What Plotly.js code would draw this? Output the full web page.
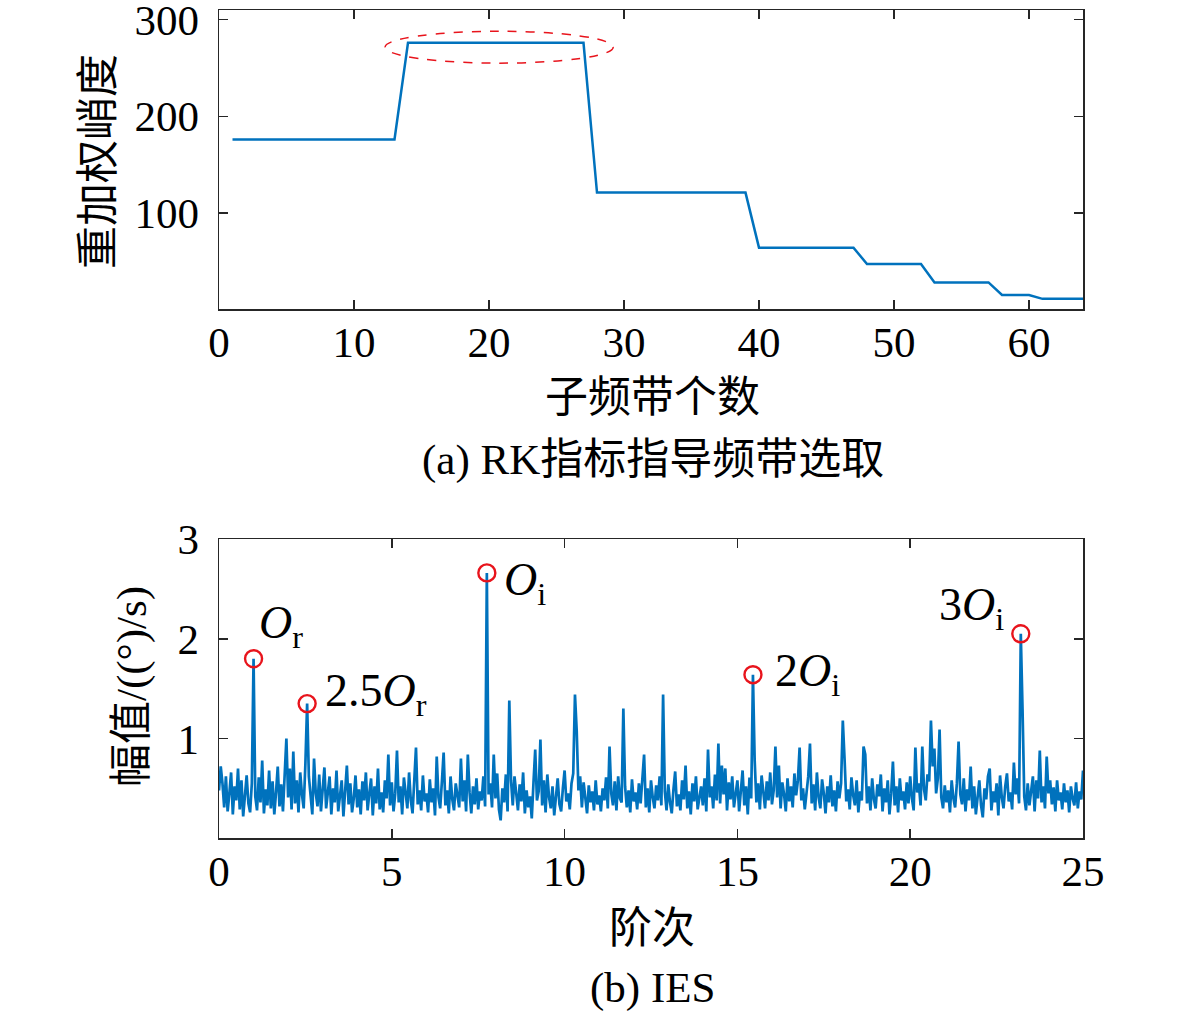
<!DOCTYPE html>
<html>
<head>
<meta charset="utf-8">
<script src="https://cdn.plot.ly/plotly-3.0.1.min.js"></script>
<style>
  body { margin: 0; background: #fff; }
  #chart { width: 1181px; height: 1013px; }
</style>
</head>
<body>
<div id="chart"></div>
<script>
// (a) reweighted kurtosis for each sub-band count 1..64
var band_counts = [];
for (var i = 1; i <= 64; i++) band_counts.push(i);
var rk_values = [
  176, 176, 176, 176, 176, 176, 176, 176, 176, 176, 176, 176, 176,
  276, 276, 276, 276, 276, 276, 276, 276, 276, 276, 276, 276, 276, 276,
  121, 121, 121, 121, 121, 121, 121, 121, 121, 121, 121, 121,
  64, 64, 64, 64, 64, 64, 64, 64,
  47, 47, 47, 47, 47,
  28, 28, 28, 28, 28,
  15, 15, 15,
  11, 11, 11, 11
];
var rk_yticks = [100, 200, 300];
var rk_xticks = [0, 10, 20, 30, 40, 50, 60];

// (b) IES amplitude, order 0..25 sampled every 0.05
var order_start = 0;
var order_step = 0.05;
var ies_values = [
  0.48, 0.72, 0.55, 0.31, 0.62, 0.27, 0.45, 0.66, 0.24, 0.52, 0.38, 0.70, 0.29, 0.58, 0.22, 0.47, 0.63, 0.35, 0.26, 0.55,
  1.80, 0.42, 0.28, 0.61, 0.36, 0.78, 0.25, 0.49, 0.33, 0.68, 0.30, 0.57, 0.24, 0.46, 0.72, 0.32, 0.54, 0.27, 0.62, 1.00,
  0.41, 0.70, 0.29, 0.87, 0.35, 0.58, 0.26, 0.66, 0.44, 0.30, 0.75, 1.35, 0.62, 0.38, 0.24, 0.80, 0.45, 0.32, 0.64, 0.27,
  0.52, 0.71, 0.30, 0.44, 0.62, 0.24, 0.50, 0.36, 0.68, 0.27, 0.43, 0.58, 0.22, 0.47, 0.73, 0.34, 0.55, 0.26, 0.40, 0.63,
  0.31, 0.49, 0.24, 0.57, 0.38, 0.66, 0.28, 0.45, 0.60, 0.23, 0.52, 0.35, 0.70, 0.29, 0.46, 0.26, 0.58, 0.40, 0.84, 0.33,
  0.56, 0.27, 0.45, 0.88, 0.36, 0.52, 0.24, 0.61, 0.42, 0.30, 0.66, 0.38, 0.25, 0.54, 0.91, 0.34, 0.48, 0.28, 0.63, 0.37,
  0.45, 0.26, 0.59, 0.36, 0.50, 0.23, 0.82, 0.41, 0.30, 0.57, 0.86, 0.33, 0.48, 0.25, 0.62, 0.39, 0.28, 0.55, 0.43, 0.31,
  0.80, 0.37, 0.58, 0.27, 0.84, 0.46, 0.25, 0.52, 0.34, 0.60, 0.29, 0.47, 0.38, 0.62, 0.32, 2.66, 0.44, 0.55, 0.31, 0.84,
  0.40, 0.65, 0.29, 0.18, 0.50, 0.36, 0.64, 0.27, 1.38, 0.58, 0.33, 0.62, 0.45, 0.28, 0.54, 0.37, 0.66, 0.25, 0.48, 0.31,
  0.42, 0.20, 0.56, 0.89, 0.38, 0.47, 0.99, 0.33, 0.58, 0.26, 0.64, 0.41, 0.30, 0.52, 0.23, 0.46, 0.60, 0.34, 0.27, 0.50,
  0.68, 0.37, 0.45, 0.29, 0.55, 0.65, 1.44, 1.08, 0.48, 0.62, 0.31, 0.56, 0.40, 0.25, 0.53, 0.36, 0.47, 0.28, 0.58, 0.34,
  0.43, 0.27, 0.50, 0.38, 0.61, 0.30, 0.92, 0.45, 0.33, 0.57, 0.28, 0.62, 0.40, 0.36, 1.30, 0.52, 0.31, 0.48, 0.26, 0.59,
  0.37, 0.46, 0.29, 0.55, 0.35, 0.64, 0.84, 0.31, 0.50, 0.26, 0.58, 0.41, 0.30, 0.53, 0.38, 0.62, 0.33, 1.44, 0.47, 0.28,
  0.54, 0.36, 0.25, 0.49, 0.67, 0.32, 0.44, 0.28, 0.58, 0.39, 0.73, 0.30, 0.47, 0.24, 0.55, 0.37, 0.62, 0.29, 0.42, 0.52,
  0.33, 0.60, 0.27, 0.89, 0.41, 0.52, 0.30, 0.64, 0.38, 0.95, 0.35, 0.73, 0.44, 0.70, 0.28, 0.56, 0.39, 0.62, 0.31, 0.48,
  0.58, 0.27, 0.45, 0.68, 0.33, 0.52, 0.24, 0.61, 0.40, 1.64, 0.78, 0.36, 0.55, 0.29, 0.63, 0.42, 0.30, 0.57, 0.38, 0.66,
  0.34, 0.48, 0.92, 0.41, 0.73, 0.30, 0.56, 0.44, 0.27, 0.60, 0.37, 0.52, 0.31, 0.65, 0.43, 0.58, 0.91, 0.38, 0.50, 0.29,
  0.47, 0.62, 0.95, 0.35, 0.54, 0.28, 0.66, 0.41, 0.30, 0.59, 0.45, 0.25, 0.52, 0.36, 0.63, 0.32, 0.48, 0.27, 0.57, 0.40,
  0.55, 1.18, 0.80, 0.37, 0.49, 0.29, 0.61, 0.43, 0.33, 0.58, 0.26, 0.47, 0.38, 0.92, 0.84, 0.35, 0.52, 0.28, 0.60, 0.39,
  0.30, 0.54, 0.42, 0.64, 0.27, 0.50, 0.36, 0.58, 0.24, 0.45, 0.77, 0.33, 0.52, 0.26, 0.60, 0.38, 0.47, 0.29, 0.56, 0.35,
  0.62, 0.40, 0.28, 0.91, 0.46, 0.55, 0.33, 0.92, 0.49, 0.38, 0.64, 0.57, 1.18, 0.72, 0.90, 0.45, 0.60, 1.09, 0.41, 0.30,
  0.53, 0.36, 0.48, 0.26, 0.58, 0.40, 0.31, 0.55, 0.97, 0.44, 0.34, 0.60, 0.27, 0.49, 0.38, 0.72, 0.30, 0.52, 0.24, 0.45,
  0.58, 0.33, 0.21, 0.50, 0.39, 0.62, 0.70, 0.28, 0.47, 0.36, 0.55, 0.23, 0.63, 0.41, 0.30, 0.52, 0.65, 0.37, 0.46, 0.29,
  0.76, 0.44, 0.60, 0.35, 2.05, 1.30, 0.42, 0.28, 0.55, 0.33, 0.49, 0.62, 0.27, 0.58, 0.40, 0.88, 0.36, 0.52, 0.30, 0.82,
  0.45, 0.58, 0.34, 0.51, 0.27, 0.58, 0.38, 0.46, 0.29, 0.55, 0.36, 0.48, 0.26, 0.52, 0.40, 0.33, 0.56, 0.30, 0.47, 0.39,
  0.68
];
var ies_yticks = [1, 2, 3];
var ies_xticks = [0, 5, 10, 15, 20, 25];

// marked fault orders
var peak_orders = [1.00, 2.55, 7.75, 15.45, 23.20];
var peak_amps = [1.80, 1.35, 2.66, 1.64, 2.05];
var peak_labels = ['<i>O</i><sub>r</sub>', '2.5<i>O</i><sub>r</sub>', '<i>O</i><sub>i</sub>',
                   '2<i>O</i><sub>i</sub>', '3<i>O</i><sub>i</sub>'];
var label_x = [1.10, 3.00, 8.20, 16.03, 20.78];
var label_y = [2.13, 1.45, 2.56, 1.65, 2.31];

var W = 1181, H = 1013;
var serif = 'Liberation Serif, Noto Sans CJK SC, serif';
var line_blue = '#0072BD';
var axis_col = '#262626';

function px(x) { return x / W; }
function py(y) { return 1 - y / H; }

function axis_style(extra) {
  var ax = {
    showline: true,
    linecolor: axis_col,
    linewidth: 1.5,
    mirror: 'allticks',
    ticks: 'inside',
    ticklen: 9,
    tickwidth: 1.5,
    tickcolor: axis_col,
    showgrid: false,
    zeroline: false,
    ticklabeloverflow: 'allow',
    tickfont: { family: serif, size: 43, color: '#000' },
    fixedrange: true
  };
  for (var k in extra) ax[k] = extra[k];
  return ax;
}

var data = [{
  x: band_counts,
  y: rk_values,
  type: 'scatter',
  mode: 'lines',
  line: { color: line_blue, width: 2.5 },
  xaxis: 'x',
  yaxis: 'y',
  showlegend: false
},
{
  y: ies_values,
  x0: order_start,
  dx: order_step,
  type: 'scatter',
  mode: 'lines',
  line: { color: line_blue, width: 2.7 },
  xaxis: 'x2',
  yaxis: 'y2',
  showlegend: false
},
{
  x: peak_orders,
  y: peak_amps,
  type: 'scatter',
  mode: 'markers',
  marker: { symbol: 'circle-open', size: 17, color: '#E8141C', line: { width: 2.4, color: '#E8141C' } },
  xaxis: 'x2',
  yaxis: 'y2',
  showlegend: false
}];

var annotations = [
  { text: '重加权峭度', x: px(98), y: py(162), textangle: -90 },
  { text: '子频带个数', x: px(652), y: py(397) },
  { text: '(a) RK指标指导频带选取', x: px(653), y: py(460) },
  { text: '幅值/((°)/s)', x: px(132), y: py(687), textangle: -90 },
  { text: '阶次', x: px(652), y: py(928) },
  { text: '(b) IES', x: px(652), y: py(988) }
].map(function (a) {
  a.xref = 'paper';
  a.yref = 'paper';
  a.showarrow = false;
  a.xanchor = 'center';
  a.yanchor = 'middle';
  a.font = { family: serif, size: 43, color: '#000' };
  return a;
});

for (var j = 0; j < peak_labels.length; j++) {
  annotations.push({
    text: peak_labels[j],
    x: label_x[j],
    y: label_y[j],
    xref: 'x2',
    yref: 'y2',
    showarrow: false,
    xanchor: 'left',
    yanchor: 'middle',
    font: { family: serif, size: 46, color: '#000' }
  });
}

var layout = {
  width: W,
  height: H,
  margin: { l: 0, r: 0, t: 0, b: 0 },
  paper_bgcolor: '#fff',
  plot_bgcolor: '#fff',
  xaxis: axis_style({
    domain: [px(219), px(1083)],
    range: [0, 64],
    tickvals: rk_xticks,
    ticklabelstandoff: -5,
    anchor: 'y'
  }),
  yaxis: axis_style({
    domain: [py(309), py(10)],
    range: [0.5, 310],
    tickvals: rk_yticks,
    ticklabelstandoff: 10,
    anchor: 'x'
  }),
  xaxis2: axis_style({
    domain: [px(219), px(1083)],
    range: [0, 25],
    tickvals: ies_xticks,
    ticklabelstandoff: -5,
    anchor: 'y2'
  }),
  yaxis2: axis_style({
    domain: [py(838), py(539)],
    range: [0.003, 3],
    tickvals: ies_yticks,
    ticklabelstandoff: 10,
    anchor: 'x2'
  }),
  shapes: [{
    type: 'circle',
    xref: 'x',
    yref: 'y',
    x0: 12.3,
    x1: 29.2,
    y0: 255,
    y1: 288,
    line: { color: '#E8141C', width: 1.5, dash: 'dash' }
  }],
  annotations: annotations
};

Plotly.newPlot('chart', data, layout, { displayModeBar: false, staticPlot: true });
</script>
</body>
</html>
